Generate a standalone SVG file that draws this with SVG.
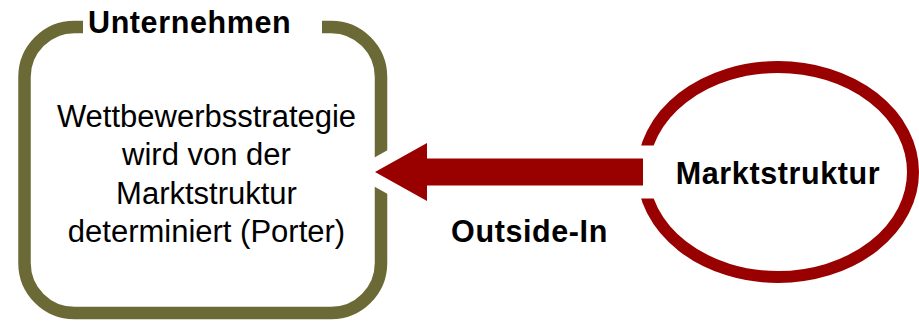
<svg xmlns="http://www.w3.org/2000/svg" width="919" height="322" viewBox="0 0 919 322">
<style>
.t{font-family:"Liberation Sans",Arial,sans-serif;fill:#000}
.b{font-weight:bold;font-size:30.5px;letter-spacing:0.6px}
.r{font-size:31px;text-anchor:middle}
</style>
<rect x="0" y="0" width="919" height="322" fill="#fff"/>
<g id="unternehmen">
<path d="M 322 27 H 331 A 50 50 0 0 1 381 77 V 263 A 50 50 0 0 1 331 313 H 74.5 A 50 50 0 0 1 24.5 263 V 77 A 50 50 0 0 1 74.5 27 H 83" fill="#fff" stroke="#6b6a36" stroke-width="12.5"/>
<text class="t b" x="88" y="33">Unternehmen</text>
<text class="t r" x="206.5" y="127">Wettbewerbsstrategie</text>
<text class="t r" x="206.5" y="165">wird von der</text>
<text class="t r" x="206.5" y="204">Marktstruktur</text>
<text class="t r" x="206.5" y="242">determiniert (Porter)</text>
</g>
<g id="marktstruktur">
<ellipse cx="778" cy="172" rx="135" ry="105" fill="#fff" stroke="#990000" stroke-width="12"/>
<text class="t b" x="778" y="184" text-anchor="middle">Marktstruktur</text>
</g>
<g id="connectors">
<polygon points="375,172 427,143 427,158.5 643,158.5 643,185.5 427,185.5 427,201" fill="#990000" stroke="#fff" stroke-width="26" paint-order="stroke"/>
<text class="t b" x="529.5" y="242" text-anchor="middle">Outside-In</text>
</g>
</svg>
